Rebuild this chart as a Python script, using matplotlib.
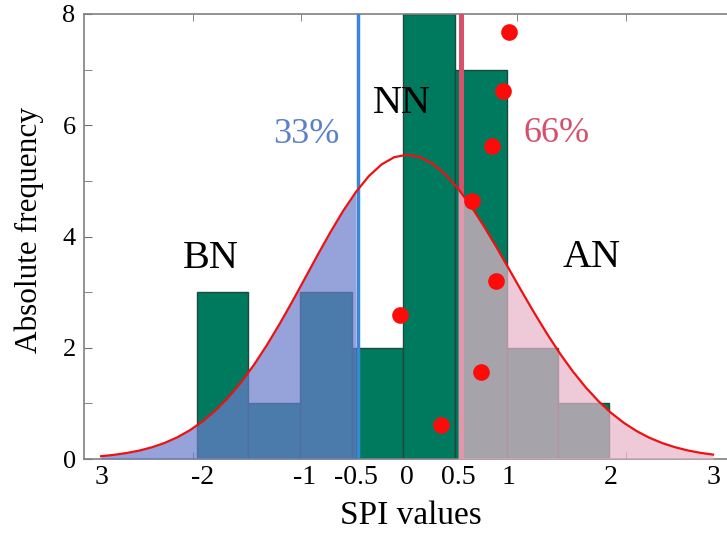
import numpy as np
from matplotlib import pyplot as plt

# histogram of SPI values
bin_edges = [-2.06, -1.56, -1.05, -0.54, -0.04, 0.47, 0.98, 1.48, 1.98]
counts = [3, 1, 3, 2, 8, 7, 2, 1]

# fitted normal curve (every 0.125)
curve_x = np.arange(-24, 25) * 0.125
curve_y = [0.050, 0.074, 0.107, 0.151, 0.211, 0.290, 0.392, 0.521,
           0.682, 0.877, 1.110, 1.383, 1.695, 2.044, 2.425, 2.830,
           3.250, 3.672, 4.081, 4.464, 4.802, 5.084, 5.295, 5.426,
           5.470,
           5.430, 5.311, 5.119, 4.862, 4.551, 4.196, 3.813, 3.414,
           3.012, 2.619, 2.244, 1.894, 1.576, 1.292, 1.043, 0.830,
           0.651, 0.503, 0.383, 0.288, 0.213, 0.155, 0.111, 0.079]

# tercile limits
low_cut = -0.48
high_cut = 0.53

# red points
pts_x = [1.0, 0.94, 0.83, 0.64, 0.87, -0.07, 0.73, 0.33]
pts_y = [7.68, 6.62, 5.63, 4.64, 3.20, 2.59, 1.56, 0.61]

tick_pos = [-3, -2, -1, -0.5, 0, 0.5, 1, 2, 3]
tick_lab = ['3', '-2', '-1', '-0.5', '0', '0.5', '1', '2', '3']
tick_marks = [-2.1, -1.04, 0.02, 1.08, 2.15]

plt.rcParams['font.family'] = ['Liberation Serif', 'DejaVu Serif']

fig = plt.figure(figsize=(7.27, 5.33), dpi=100)
ax = fig.add_axes([84/727, 1-459/533, 643/727, 445/533])

edges = np.array(bin_edges)
ax.bar(edges[:-1], counts, width=np.diff(edges), align='edge',
       color='#007A5E', edgecolor='#1E4A3C', linewidth=1, zorder=2)

ax.axvline(high_cut, color='#D9506A', lw=3.6, zorder=3)

cx = curve_x
cy = np.array(curve_y)
ax.fill_between(cx, 0, cy, where=cx <= -0.5, color=(106/255, 124/255, 204/255),
                alpha=0.7, lw=0, zorder=4)
ax.fill_between(cx, 0, cy, where=cx >= 0.5, color=(232/255, 180/255, 200/255),
                alpha=0.72, lw=0, zorder=4)
ax.axvline(low_cut, color='#3A86D8', lw=2.5, zorder=4.5)
ax.plot(cx, cy, color='#F01010', lw=1.6, zorder=5)

ax.plot(pts_x, pts_y, 'o', color='#FF0A0A', ms=12, mec='none', zorder=6)

ax.text(-1.92, 3.43, 'BN', fontsize=29, ha='center', va='baseline', zorder=7)
ax.text(-0.05, 6.22, 'NN', fontsize=29, ha='center', va='baseline', zorder=7)
ax.text(1.81, 3.45, 'AN', fontsize=29, ha='center', va='baseline', zorder=7)
ax.text(-0.99, 5.68, '33%', fontsize=26, color='#5A7FCB', ha='center', va='baseline', zorder=7)
ax.text(1.47, 5.70, '66%', fontsize=26, color='#D6506B', ha='center', va='baseline', zorder=7)

ax.set_xlim(-3.167, 3.137)
ax.set_ylim(0, 8)

ax.set_xticks(tick_pos)
ax.set_xticklabels(tick_lab)
ax.set_xticks(tick_marks, minor=True)
ax.tick_params(axis='x', which='major', length=0, pad=4, labelsize=20)
ax.tick_params(axis='x', which='minor', direction='in', length=5, top=True,
               bottom=True, color='#707070')
ax.set_yticks([0, 2, 4, 6, 8])
ax.set_yticks([1, 3, 5, 7], minor=True)
ax.tick_params(axis='y', which='both', direction='in', length=6, color='#707070',
               pad=6, labelsize=19)

for s in ['left', 'top', 'bottom']:
    ax.spines[s].set_color('#808080')
    ax.spines[s].set_linewidth(1.2)
ax.spines['right'].set_visible(False)

ax.set_xlabel('SPI values', fontsize=24, va='baseline')
ax.xaxis.set_label_coords(0.5086, -0.147)
ax.set_ylabel('Absolute frequency', fontsize=22.5, va='center')
ax.yaxis.set_label_coords(-0.0855, 0.515)

fig.savefig('out.png', dpi=100)
